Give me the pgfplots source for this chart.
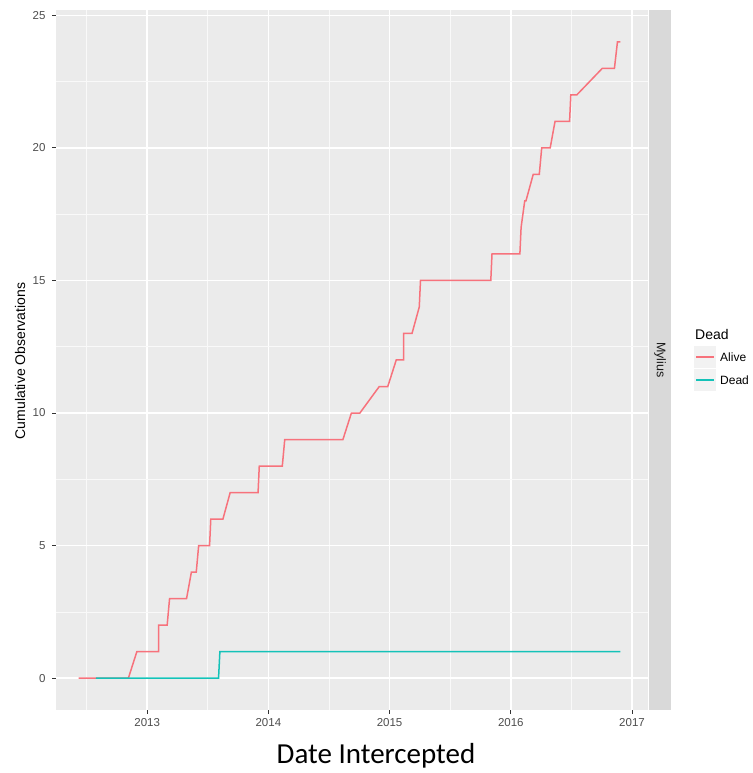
\documentclass[border=0pt]{standalone}
\usepackage{fontspec}
\setmainfont{Liberation Sans}
\newfontfamily\calibri{Carlito}
\usepackage{pgfplots}
\pgfplotsset{compat=1.18}
\definecolor{panelbg}{HTML}{EBEBEB}
\definecolor{alive}{HTML}{F7727C}
\definecolor{dead}{HTML}{14C2B8}
\definecolor{stripbg}{HTML}{D9D9D9}
\definecolor{keybg}{HTML}{F2F2F2}
\definecolor{gray30}{HTML}{4D4D4D}
\definecolor{gray20}{HTML}{333333}
\definecolor{gray10}{HTML}{1A1A1A}
\begin{document}
\begin{tikzpicture}[x=1pt,y=1pt]
\path[use as bounding box] (0,0) rectangle (752,773);
\begin{axis}[
  at={(56pt,63pt)}, anchor=south west,
  scale only axis, width=592pt, height=700pt,
  xmin=2012.248, xmax=2017.132, ymin=-1.2, ymax=25.2,
  axis background/.style={fill=panelbg},
  axis line style={draw=none},
  xtick={2013,2014,2015,2016,2017},
  xticklabels={2013,2014,2015,2016,2017},
  ytick={0,5,10,15,20,25},
  minor xtick={2012.5,2013.5,2014.5,2015.5,2016.5},
  minor ytick={2.5,7.5,12.5,17.5,22.5},
  grid=both,
  major grid style={white, line width=1.5pt},
  minor grid style={white!70!panelbg, line width=0.7pt},
  xtick pos=bottom, ytick pos=left,
  tick align=outside,
  major tick length=4pt, minor tick length=0pt,
  major tick style={gray20, line width=0.9pt},
  minor tick style={draw=none},
  /pgf/number format/assume math mode=true,
  xticklabel style={font=\fontsize{11.5}{13}\selectfont, text=gray30, yshift=-1pt},
  yticklabel style={font=\fontsize{11.5}{13}\selectfont, text=gray30, xshift=-3pt},
  clip=false,
]
\addplot[alive, line width=1.5pt] coordinates {
(2012.435,0) (2012.845,0) (2012.915,1) (2013.095,1) (2013.095,2) (2013.165,2)
(2013.185,3) (2013.325,3) (2013.365,4) (2013.405,4) (2013.425,5) (2013.515,5)
(2013.525,6) (2013.625,6) (2013.685,7) (2013.915,7) (2013.925,8) (2014.115,8)
(2014.135,9) (2014.615,9) (2014.685,10) (2014.755,10) (2014.915,11) (2014.985,11)
(2015.055,12) (2015.115,12) (2015.115,13) (2015.185,13) (2015.245,14) (2015.255,15)
(2015.835,15) (2015.845,16) (2016.075,16) (2016.085,17) (2016.115,18) (2016.125,18)
(2016.185,19) (2016.235,19) (2016.255,20) (2016.325,20) (2016.365,21) (2016.485,21)
(2016.495,22) (2016.545,22) (2016.755,23) (2016.855,23) (2016.88,24) (2016.905,24)
};
\addplot[dead, line width=1.5pt] coordinates {
(2012.576,0) (2013.589,0) (2013.600,1) (2016.905,1)
};
\end{axis}
% facet strip
\fill[stripbg] (649,63) rectangle (671,763);
\node[rotate=-90, text=gray10, font=\fontsize{12.5}{14}\selectfont] at (660,413) {Mylius};
% y axis title
\node[rotate=90, font=\fontsize{14}{16}\selectfont] at (20,412) {Cumulative Observations};
% x axis title
\node[font=\calibri\fontsize{29}{32}\selectfont] at (376,17) {Date Intercepted};
% legend
\node[anchor=west, font=\fontsize{14}{16}\selectfont, inner sep=0pt] at (695,438) {Dead};
\fill[keybg] (694,405) rectangle (716,427);
\fill[keybg] (694,382) rectangle (716,404);
\draw[alive, line width=1.5pt] (696,416) -- (714,416);
\draw[dead, line width=1.5pt] (696,393) -- (714,393);
\node[anchor=west, font=\fontsize{12}{14}\selectfont, inner sep=0pt] at (720,416) {Alive};
\node[anchor=west, font=\fontsize{12}{14}\selectfont, inner sep=0pt] at (720,393) {Dead};
\end{tikzpicture}
\end{document}
